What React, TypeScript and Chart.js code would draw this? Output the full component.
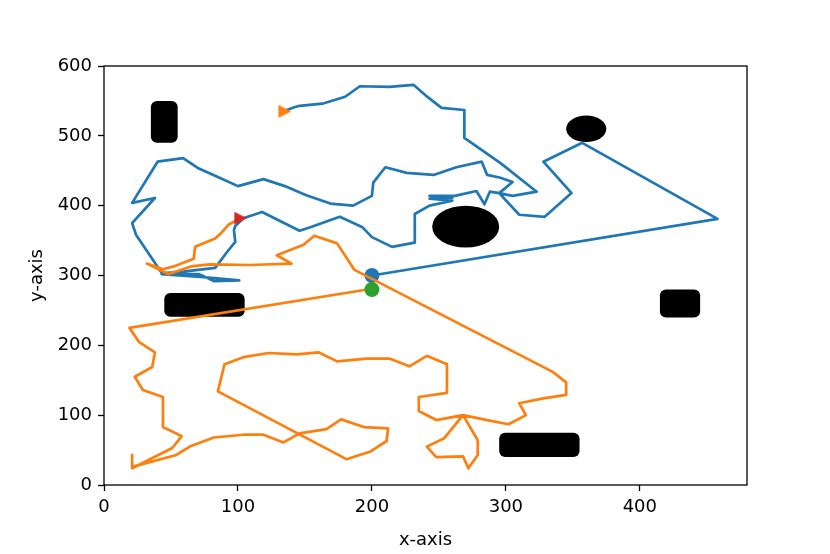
import { useEffect, useRef } from "react";
import { Chart, registerables } from "chart.js";

Chart.register(...registerables);

// Robot 1 path (blue)
const path1: [number, number][] = [
  [200, 300], [458, 381], [357, 490], [328, 463], [349, 418], [329, 384], [310, 387], [295, 418],
  [305, 434], [296, 440], [286, 444], [282, 463], [263, 455], [246, 444], [226, 447], [210, 455],
  [201, 433], [200, 414], [186, 400], [169, 403], [151, 415], [135, 428], [119, 438], [100, 428],
  [85, 441], [70, 454], [59, 468], [40, 463], [21, 404], [38, 411], [21, 375], [24, 358],
  [43, 304], [71, 302], [82, 292], [101, 293], [72, 298], [43, 302], [83, 311], [92, 334],
  [98, 348], [97, 365], [98, 371], [104, 382], [118, 391], [146, 364], [154, 369], [176, 384],
  [193, 369], [200, 355], [215, 341], [232, 347], [232, 388], [243, 400], [260, 407], [243, 410],
  [260, 411], [243, 414], [262, 414], [278, 421], [284, 402], [288, 420], [295, 418], [305, 414],
  [323, 420], [296, 461], [269, 497], [269, 511], [269, 537], [252, 540], [240, 558], [231, 573],
  [213, 570], [191, 571], [180, 556], [163, 546], [146, 543], [142, 541], [135, 536],
];

// Robot 2 path (orange)
const path2: [number, number][] = [
  [200, 281], [19, 225], [26, 205], [38, 190], [36, 169], [23, 155], [29, 136], [44, 126],
  [44, 83], [58, 70], [51, 53], [21, 24], [21, 43], [21, 26], [54, 43], [64, 55],
  [82, 68], [104, 72], [119, 72], [134, 61], [146, 74], [166, 80], [177, 94], [194, 83],
  [212, 81], [211, 63], [199, 48], [181, 37], [85, 134], [90, 173], [104, 183], [123, 189],
  [144, 187], [160, 190], [174, 177], [196, 181], [213, 181], [228, 170], [241, 185], [256, 173],
  [256, 132], [235, 126], [235, 106], [248, 93], [268, 100], [254, 67], [241, 55], [248, 40],
  [268, 41], [272, 24], [279, 43], [279, 64], [268, 100], [286, 93], [302, 87], [315, 100],
  [310, 117], [328, 124], [345, 129], [345, 147], [335, 162], [187, 308], [174, 346], [157, 357],
  [149, 344], [129, 329], [140, 317], [109, 315], [79, 316], [65, 313], [48, 302], [32, 317],
  [44, 309], [52, 313], [67, 324], [68, 341], [83, 353], [87, 360], [93, 373], [102, 382],
];

const start1: [number, number] = [200, 300];
const start2: [number, number] = [200, 280];
const goal1: [number, number] = [135, 535];
const goal2: [number, number] = [102, 382];

// Obstacles in data units
const rectObstacles = [
  { x: 35, y: 490, w: 20, h: 60 },
  { x: 45, y: 241, w: 60, h: 34 },
  { x: 415, y: 240, w: 30, h: 40 },
  { x: 295, y: 40, w: 60, h: 35 },
];
const ellipseObstacles = [
  { cx: 270, cy: 370, rx: 25, ry: 30 },
  { cx: 360, cy: 510, rx: 15, ry: 19 },
];

const xTicks = [0, 100, 200, 300, 400];
const yTicks = [0, 100, 200, 300, 400, 500, 600];
const xRange = [0, 480];
const yRange = [0, 600];

const FONT = "'DejaVu Sans', sans-serif";

function triCanvas(color: string): HTMLCanvasElement {
  const c = document.createElement("canvas");
  c.width = 14;
  c.height = 14;
  const g = c.getContext("2d")!;
  g.fillStyle = color;
  g.beginPath();
  g.moveTo(0.5, 0.5);
  g.lineTo(13.5, 7);
  g.lineTo(0.5, 13.5);
  g.closePath();
  g.fill();
  return c;
}

const toPts = (arr: [number, number][]) => arr.map(([x, y]) => ({ x, y }));

export default function App() {
  const ref = useRef<HTMLCanvasElement>(null);

  useEffect(() => {
    if (!ref.current) return;

    const obstaclePlugin = {
      id: "obstacles",
      beforeDatasetsDraw(chart: any) {
        const { ctx, chartArea, scales } = chart;
        const xs = scales.x;
        const ys = scales.y;
        ctx.save();
        ctx.beginPath();
        ctx.rect(chartArea.left, chartArea.top, chartArea.right - chartArea.left, chartArea.bottom - chartArea.top);
        ctx.clip();
        ctx.fillStyle = "#000";
        for (const r of rectObstacles) {
          const x0 = xs.getPixelForValue(r.x);
          const x1 = xs.getPixelForValue(r.x + r.w);
          const y0 = ys.getPixelForValue(r.y + r.h);
          const y1 = ys.getPixelForValue(r.y);
          ctx.beginPath();
          (ctx as any).roundRect(x0, y0, x1 - x0, y1 - y0, 6);
          ctx.fill();
        }
        for (const e of ellipseObstacles) {
          const cx = xs.getPixelForValue(e.cx);
          const cy = ys.getPixelForValue(e.cy);
          const rx = Math.abs(xs.getPixelForValue(e.cx + e.rx) - cx);
          const ry = Math.abs(ys.getPixelForValue(e.cy + e.ry) - cy);
          ctx.beginPath();
          ctx.ellipse(cx, cy, rx, ry, 0, 0, Math.PI * 2);
          ctx.fill();
        }
        ctx.restore();
      },
      afterDraw(chart: any) {
        const { ctx, chartArea } = chart;
        ctx.save();
        ctx.strokeStyle = "#000";
        ctx.lineWidth = 1.3;
        ctx.strokeRect(chartArea.left, chartArea.top, chartArea.right - chartArea.left, chartArea.bottom - chartArea.top);
        ctx.restore();
      },
    };

    const lineDs = (data: [number, number][], color: string, order: number) => ({
      data: toPts(data),
      showLine: true,
      borderColor: color,
      borderWidth: 2.7,
      borderJoinStyle: "round" as const,
      borderCapStyle: "butt" as const,
      pointRadius: 0,
      pointHoverRadius: 0,
      order,
    });
    const dotDs = (p: [number, number], color: string, order: number) => ({
      data: [{ x: p[0], y: p[1] }],
      showLine: false,
      pointRadius: 7.5,
      pointBackgroundColor: color,
      pointBorderWidth: 0,
      borderColor: color,
      order,
    });
    const triDs = (p: [number, number], color: string, order: number) => ({
      data: [{ x: p[0], y: p[1] }],
      showLine: false,
      pointStyle: triCanvas(color),
      pointRadius: 7,
      borderColor: color,
      backgroundColor: color,
      order,
    });

    const chart = new Chart(ref.current, {
      type: "scatter",
      data: {
        datasets: [
          lineDs(path1, "#1f77b4", 6),
          dotDs(start1, "#1f77b4", 5),
          lineDs(path2, "#ff7f0e", 4),
          dotDs(start2, "#2ca02c", 3),
          triDs(goal1, "#ff7f0e", 2),
          triDs(goal2, "#d62728", 1),
        ] as any,
      },
      options: {
        animation: false,
        responsive: false,
        devicePixelRatio: 1,
        layout: { padding: { left: 0, top: 66, right: 83, bottom: 0 } },
        plugins: { legend: { display: false }, tooltip: { enabled: false } },
        events: [],
        scales: {
          x: {
            type: "linear",
            position: "bottom",
            min: xRange[0],
            max: xRange[1],
            afterBuildTicks: (s: any) => {
              s.ticks = xTicks.map((v) => ({ value: v }));
            },
            afterFit: (s: any) => {
              s.height = 69;
            },
            ticks: {
              color: "#000",
              font: { family: FONT, size: 18 },
              padding: 6,
              maxRotation: 0,
              autoSkip: false,
            },
            grid: {
              display: true,
              drawOnChartArea: false,
              drawTicks: true,
              tickLength: 6,
              tickWidth: 1.3,
              tickColor: "#000",
            },
            border: { display: false },
            title: {
              display: true,
              text: "x-axis",
              color: "#000",
              font: { family: FONT, size: 18 },
              padding: { top: 0, bottom: 3 },
            },
          },
          y: {
            type: "linear",
            min: yRange[0],
            max: yRange[1],
            afterBuildTicks: (s: any) => {
              s.ticks = yTicks.map((v) => ({ value: v }));
            },
            afterFit: (s: any) => {
              s.width = 104;
            },
            ticks: {
              color: "#000",
              font: { family: FONT, size: 18 },
              padding: 6,
              autoSkip: false,
            },
            grid: {
              display: true,
              drawOnChartArea: false,
              drawTicks: true,
              tickLength: 6,
              tickWidth: 1.3,
              tickColor: "#000",
            },
            border: { display: false },
            title: {
              display: true,
              text: "y-axis",
              color: "#000",
              font: { family: FONT, size: 18 },
              padding: { top: 27, bottom: 0 },
            },
          },
        },
      },
      plugins: [obstaclePlugin],
    });

    return () => chart.destroy();
  }, []);

  return (
    <div style={{ position: "fixed", left: 0, top: 0, width: 830, height: 554, background: "#fff" }}>
      <canvas ref={ref} width={830} height={554} style={{ display: "block" }} />
    </div>
  );
}
